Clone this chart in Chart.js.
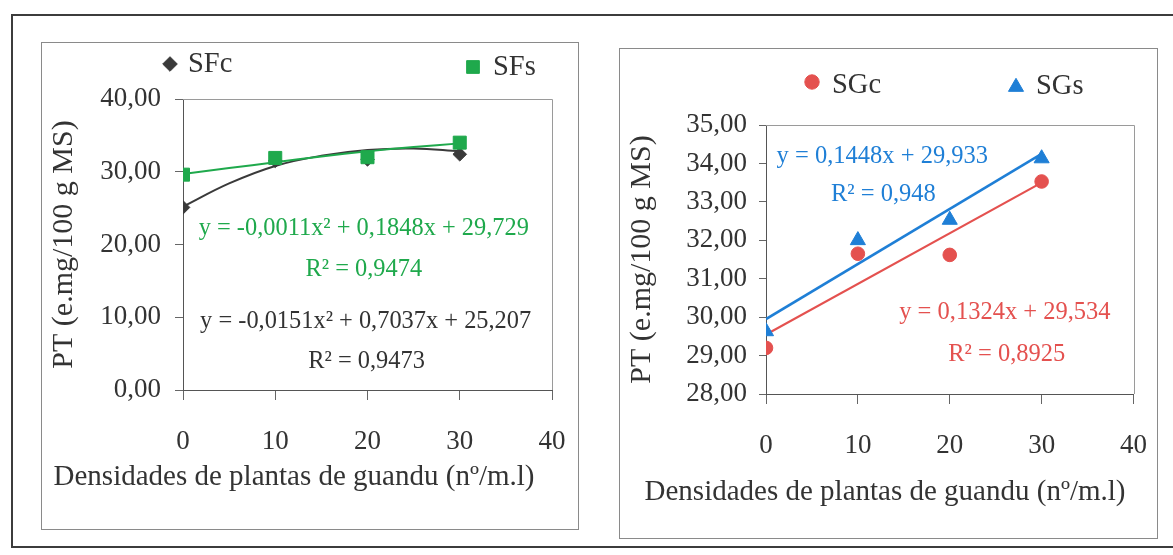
<!DOCTYPE html>
<html><head><meta charset="utf-8">
<script src="https://cdn.jsdelivr.net/npm/chart.js@4.4.1/dist/chart.umd.min.js"></script>
<style>
html,body{margin:0;padding:0;background:#fff;width:1173px;height:555px;overflow:hidden;position:relative;}
.frame{position:absolute;left:11px;top:14px;width:1250px;height:534px;border:2px solid #3c3c3c;box-sizing:border-box;}
.panel{position:absolute;border:1px solid #8a8a8a;box-sizing:border-box;}
canvas{position:absolute;}
</style></head><body>
<div class="frame"></div>
<div class="panel" style="left:41px;top:42px;width:538px;height:488px"></div>
<div class="panel" style="left:619px;top:48px;width:539px;height:491px"></div>
<canvas id="c1" width="536" height="487" style="left:42px;top:42px"></canvas>
<canvas id="c2" width="537" height="490" style="left:620px;top:48px"></canvas>
<script>
// ---- data ----
const densities = [0, 10, 20, 30];
const sfcValues = [25.1, 31.5, 31.7, 32.4];
const sfsValues = [29.6, 31.9, 32.0, 34.0];
const sgcValues = [29.2, 31.65, 31.62, 33.53];
const sgsValues = [29.63, 32.0, 32.53, 34.13];
const curveX = [0, 5, 10, 15, 20, 25, 30];
const sfcTrend = [25.2, 28.4, 30.8, 32.2, 33.0, 33.2, 32.8];
const sfsTrend = [29.7, 30.5, 31.3, 32.1, 32.8, 33.4, 33.9];
const lineX = [0, 30];
const sgcTrend = [29.55, 33.5];
const sgsTrend = [29.95, 34.25];
const xTickLabels = ['0', '10', '20', '30', '40'];
const yTickLabelsLeft = ['0,00', '10,00', '20,00', '30,00', '40,00'];
const yTickLabelsRight = ['28,00', '29,00', '30,00', '31,00', '32,00', '33,00', '34,00', '35,00'];
const seriesNames = ['SFc', 'SFs', 'SGc', 'SGs'];
const xTitle = 'Densidades de plantas de guandu (nº/m.l)';
const yTitle = 'PT (e.mg/100 g MS)';

const SERIF = "'Liberation Serif', 'Times New Roman', serif";
const TXT = '#333333';
const GREEN = '#1fa94c', DARK = '#3a3a3a', RED = '#e4514f', BLUE = '#1f7fd6';

function pts(xs, ys) { return xs.map((x, i) => ({x: x, y: ys[i]})); }

const annotate = {
  id: 'annotate',
  afterDraw(chart, args, opts) {
    const ctx = chart.ctx, xs = chart.scales.x, ys = chart.scales.y, a = chart.chartArea;
    ctx.save();
    // plot-area border (top and right)
    ctx.strokeStyle = '#9a9a9a'; ctx.lineWidth = 1;
    ctx.beginPath();
    ctx.moveTo(a.left, Math.round(a.top) + 0.5);
    ctx.lineTo(Math.round(a.right) + 0.5, Math.round(a.top) + 0.5);
    ctx.lineTo(Math.round(a.right) + 0.5, a.bottom);
    ctx.stroke();
    // x axis title (drawn without width squeezing)
    if (opts.xTitle) {
      const t = opts.xTitle;
      ctx.font = t.size + 'px ' + SERIF; ctx.fillStyle = TXT; ctx.textAlign = 'center'; ctx.textBaseline = 'middle';
      ctx.fillText(xTitle, t.cx, xs.bottom - t.fromBottom);
    }
    // equations
    (opts.texts || []).forEach(t => {
      ctx.font = t.size + 'px ' + SERIF;
      ctx.fillStyle = t.color; ctx.textAlign = 'center'; ctx.textBaseline = 'middle';
      ctx.fillText(t.text, xs.getPixelForValue(t.x), ys.getPixelForValue(t.y));
    });
    // legend
    (opts.legend || []).forEach(l => {
      const ds = chart.data.datasets[l.dataset];
      ctx.fillStyle = ds.pointBackgroundColor; ctx.strokeStyle = ds.pointBorderColor; ctx.lineWidth = 1;
      Chart.helpers.drawPoint(ctx, {pointStyle: ds.pointStyle, radius: l.r, rotation: 0, borderWidth: 1}, l.mx, l.my);
      ctx.font = l.size + 'px ' + SERIF; ctx.fillStyle = TXT; ctx.textAlign = 'left'; ctx.textBaseline = 'middle';
      ctx.fillText(ds.label, l.tx, l.ty);
    });
    ctx.restore();
  }
};

function scatterSet(label, data, style, color, r) {
  return {label: label, data: data, showLine: false, pointStyle: style, pointRadius: r,
    pointBackgroundColor: color, pointBorderColor: color, pointBorderWidth: 1, backgroundColor: color, borderColor: color};
}
function trendSet(data, color, w, tension) {
  return {label: '', data: data, showLine: true, pointRadius: 0, borderColor: color, borderWidth: w,
    tension: tension, fill: false, backgroundColor: color};
}
function noPad(s) { s.paddingLeft = 0; s.paddingRight = 0; s.paddingTop = 0; s.paddingBottom = 0; }

function axes(cfg) {
  return {
    x: {type: 'linear', min: 0, max: 40,
      ticks: {stepSize: 10, padding: cfg.xPad, color: TXT, font: {family: SERIF, size: 27},
        callback: (v, i) => xTickLabels[i] !== undefined ? xTickLabels[i] : String(v)},
      grid: {drawOnChartArea: false, drawTicks: true, tickLength: 10, color: '#666'},
      border: {display: true, color: '#555', width: 1},
      title: {display: false},
      afterFit: s => { s.height = cfg.xH; noPad(s); }
    },
    y: {type: 'linear', min: cfg.yMin, max: cfg.yMax,
      ticks: {stepSize: cfg.yStep, padding: cfg.yPad, color: TXT, font: {family: SERIF, size: 27},
        callback: (v, i) => cfg.yLabels[i] !== undefined ? cfg.yLabels[i] : String(v)},
      grid: {drawOnChartArea: false, drawTicks: true, tickLength: cfg.yTick, color: '#666'},
      border: {display: true, color: '#555', width: 1},
      title: {display: true, text: yTitle, color: TXT, font: {family: SERIF, size: 30}, padding: {top: 0, bottom: 0}},
      afterFit: s => { s.width = cfg.yW; noPad(s); }
    }
  };
}

Chart.defaults.animation = false;

new Chart(document.getElementById('c1'), {
  type: 'scatter',
  data: {datasets: [
    scatterSet(seriesNames[1], pts(densities, sfsValues), 'rect', GREEN, 9.2),
    scatterSet(seriesNames[0], pts(densities, sfcValues), 'rectRot', DARK, 6.8),
    trendSet(pts(curveX, sfsTrend), GREEN, 2, 0.4),
    trendSet(pts(curveX, sfcTrend), DARK, 2, 0.4)
  ]},
  options: {
    responsive: false, devicePixelRatio: 1,
    layout: {padding: {left: 4, right: 26, top: 57, bottom: 30}},
    plugins: {legend: {display: false}, tooltip: {enabled: false},
      annotate: {
        xTitle: {cx: 252, fromBottom: 22, size: 29},
        texts: [
          {text: 'y = -0,0011x² + 0,1848x + 29,729', x: 19.6, y: 22.2, color: GREEN, size: 24.4},
          {text: 'R² = 0,9474', x: 19.6, y: 16.5, color: GREEN, size: 24.4},
          {text: 'y = -0,0151x² + 0,7037x + 25,207', x: 19.8, y: 9.4, color: TXT, size: 24.4},
          {text: 'R² = 0,9473', x: 19.9, y: 3.9, color: TXT, size: 24.4}
        ],
        legend: [
          {dataset: 1, r: 7.3, mx: 128, my: 22, tx: 146, ty: 23, size: 28.5},
          {dataset: 0, r: 9, mx: 431, my: 25, tx: 451, ty: 26, size: 28.5}
        ]
      }
    },
    scales: axes({xPad: 26, xH: 109, yMin: 0, yMax: 40, yStep: 10, yPad: 14, yTick: 8, yW: 137, yLabels: yTickLabelsLeft})
  },
  plugins: [annotate]
});

new Chart(document.getElementById('c2'), {
  type: 'scatter',
  data: {datasets: [
    scatterSet(seriesNames[3], pts(densities, sgsValues), 'triangle', BLUE, 8.7),
    scatterSet(seriesNames[2], pts(densities, sgcValues), 'circle', RED, 6.8),
    trendSet(pts(lineX, sgsTrend), BLUE, 2.5, 0),
    trendSet(pts(lineX, sgcTrend), RED, 2.2, 0)
  ]},
  options: {
    responsive: false, devicePixelRatio: 1,
    layout: {padding: {left: 4, right: 23.5, top: 77, bottom: 22}},
    plugins: {legend: {display: false}, tooltip: {enabled: false},
      annotate: {
        xTitle: {cx: 265, fromBottom: 24, size: 29},
        texts: [
          {text: 'y = 0,1448x + 29,933', x: 12.66, y: 34.18, color: BLUE, size: 24.5},
          {text: 'R² = 0,948', x: 12.77, y: 33.18, color: BLUE, size: 24.5},
          {text: 'y = 0,1324x + 29,534', x: 26.0, y: 30.11, color: RED, size: 24.5},
          {text: 'R² = 0,8925', x: 26.2, y: 29.02, color: RED, size: 24.5}
        ],
        legend: [
          {dataset: 1, r: 7.2, mx: 192, my: 34, tx: 212, ty: 38, size: 28.5},
          {dataset: 0, r: 8.7, mx: 396, my: 39, tx: 416, ty: 39, size: 28.5}
        ]
      }
    },
    scales: axes({xPad: 26, xH: 122, yMin: 28, yMax: 35, yStep: 1, yPad: 12, yTick: 7, yW: 142, yLabels: yTickLabelsRight})
  },
  plugins: [annotate]
});
</script>
</body></html>
